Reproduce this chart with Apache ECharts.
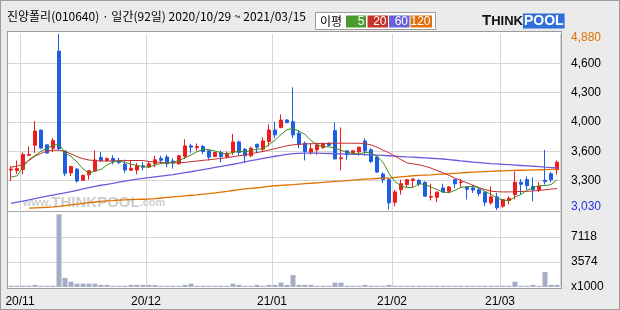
<!DOCTYPE html>
<html>
<head>
<meta charset="utf-8">
<script src="https://cdn.jsdelivr.net/npm/echarts@6/dist/echarts.min.js"></script>
<style>
html,body{margin:0;padding:0;background:#ebebeb;width:620px;height:310px;overflow:hidden}
#outer{position:absolute;left:0;top:0;width:618px;height:308px;border:1px solid #9c9c9c}
#panel{position:absolute;left:7px;top:31px;width:553px;height:256px;background:#fff;border:1px solid #9c9c9c}
#sep{position:absolute;left:8px;top:211px;width:553px;height:1px;background:#a9a9a9}
#chart{position:absolute;left:0;top:0;width:620px;height:310px}
</style>
</head>
<body>
<div id="outer"></div>
<div id="panel"></div>
<div id="sep"></div>
<div id="chart"></div>
<script>
const TITLE = '진양폴리(010640) · 일간(92일) 2020/10/29 ~ 2021/03/15';

const dates = [
'20/10/29','20/10/30',
'20/11/02','20/11/03','20/11/04','20/11/05','20/11/06','20/11/09','20/11/10','20/11/11','20/11/12','20/11/13',
'20/11/16','20/11/17','20/11/18','20/11/19','20/11/20','20/11/23','20/11/24','20/11/25','20/11/26','20/11/27','20/11/30',
'20/12/01','20/12/02','20/12/03','20/12/04','20/12/07','20/12/08','20/12/09','20/12/10','20/12/11','20/12/14','20/12/15',
'20/12/16','20/12/17','20/12/18','20/12/21','20/12/22','20/12/23','20/12/24','20/12/28','20/12/29','20/12/30',
'21/01/04','21/01/05','21/01/06','21/01/07','21/01/08','21/01/11','21/01/12','21/01/13','21/01/14','21/01/15',
'21/01/18','21/01/19','21/01/20','21/01/21','21/01/22','21/01/25','21/01/26','21/01/27','21/01/28','21/01/29',
'21/02/01','21/02/02','21/02/03','21/02/04','21/02/05','21/02/08','21/02/09','21/02/10','21/02/15','21/02/16',
'21/02/17','21/02/18','21/02/19','21/02/22','21/02/23','21/02/24','21/02/25','21/02/26',
'21/03/02','21/03/03','21/03/04','21/03/05','21/03/08','21/03/09','21/03/10','21/03/11','21/03/12','21/03/15'
];

const opens = [3450,3445,3457,3605,3710,3870,3715,3680,4700,3650,
3420,3460,3342,3400,3438,3582,3550,3572,3552,3510,
3448,3450,3495,3481,3516,3572,3586,3545,3516,3593,
3704,3685,3697,3652,3593,3634,3593,3634,3746,3669,
3600,3722,3669,3750,3871,3896,3976,3958,3837,3732,
3638,3662,3687,3732,3864,3570,3652,3634,3641,3756,
3662,3586,3408,3349,3112,3244,3297,3342,3342,3321,
3165,3164,3262,3227,3349,3318,3272,3262,3244,3217,
3105,3168,3070,3129,3192,3321,3349,3279,3244,3342,
3411,3453];
const closes = [3460,3465,3614,3615,3860,3680,3628,3760,3675,3415,
3488,3335,3395,3443,3556,3550,3570,3540,3530,3450,
3468,3495,3480,3516,3558,3552,3516,3523,3600,3704,
3690,3697,3645,3586,3634,3593,3627,3746,3634,3600,
3680,3690,3756,3871,3820,3976,3950,3820,3722,3645,
3673,3715,3725,3710,3568,3578,3610,3652,3690,3652,
3540,3429,3350,3105,3220,3307,3349,3356,3304,3175,
3172,3217,3220,3272,3307,3324,3248,3240,3203,3112,
3168,3053,3140,3154,3321,3300,3286,3244,3279,3328,
3349,3533];
const lows = [3335,3410,3405,3600,3630,3678,3625,3640,3660,3385,
3388,3318,3340,3350,3436,3535,3535,3510,3512,3420,
3445,3405,3445,3470,3480,3523,3481,3464,3505,3565,
3627,3652,3617,3551,3590,3530,3575,3610,3600,3523,
3586,3627,3645,3697,3784,3890,3940,3784,3680,3551,
3610,3610,3673,3700,3560,3446,3558,3610,3600,3600,
3523,3418,3314,3035,3070,3192,3272,3262,3279,3172,
3130,3112,3210,3210,3262,3272,3140,3210,3175,3070,
3087,3030,3053,3087,3140,3192,3244,3122,3217,3297,
3321,3401];
const highs = [3490,3550,3635,3700,3965,3875,3715,3785,4880,3655,
3495,3470,3400,3450,3655,3640,3585,3605,3580,3560,
3550,3525,3535,3547,3600,3600,3610,3575,3610,3774,
3725,3730,3712,3662,3640,3655,3645,3830,3760,3680,
3697,3725,3795,3931,3958,4035,3985,4320,3871,3750,
3732,3739,3739,3740,3951,3899,3655,3656,3697,3784,
3680,3600,3425,3366,3244,3349,3356,3360,3356,3332,
3307,3227,3307,3280,3352,3356,3280,3290,3262,3227,
3279,3210,3147,3175,3436,3356,3384,3373,3324,3662,
3429,3551];

const ma5 = [3375,3390,3480,3560,3603,3647,3679,3709,3721,3632,
3593,3535,3462,3415,3443,3456,3503,3532,3549,3528,
3512,3497,3485,3482,3503,3520,3524,3533,3550,3579,
3607,3643,3667,3664,3650,3631,3617,3637,3647,3640,
3657,3670,3672,3719,3763,3823,3875,3887,3858,3823,
3762,3715,3696,3694,3678,3659,3638,3624,3620,3636,
3629,3593,3532,3415,3329,3282,3266,3267,3307,3298,
3271,3245,3218,3211,3238,3268,3274,3278,3264,3225,
3194,3155,3135,3125,3167,3194,3240,3261,3286,3287,
3297,3347];
const ma20 = [3480,3490,3510,3550,3596,3625,3650,3659,3659,3645,
3620,3590,3570,3555,3550,3545,3545,3545,3548,3550,
3550,3550,3550,3540,3535,3530,3527,3525,3527,3530,
3538,3545,3552,3558,3565,3572,3580,3590,3600,3610,
3622,3634,3645,3660,3675,3690,3705,3715,3720,3724,
3727,3729,3730,3731,3732,3732,3732,3732,3731,3728,
3715,3690,3660,3630,3595,3560,3525,3515,3505,3490,
3470,3445,3420,3395,3365,3340,3315,3290,3265,3245,
3228,3222,3220,3220,3222,3225,3226,3230,3236,3242,
3250,3255];
const ma60 = [3100,3112,3124,3137,3150,3163,3175,3187,3199,3211,
3223,3237,3251,3265,3279,3290,3300,3311,3322,3333,
3344,3354,3363,3371,3379,3387,3395,3402,3412,3422,
3432,3443,3455,3466,3477,3488,3500,3511,3523,3536,
3548,3560,3572,3583,3595,3605,3615,3622,3625,3627,
3627,3627,3626,3624,3622,3620,3618,3616,3614,3612,
3610,3607,3604,3600,3596,3592,3588,3585,3582,3578,
3574,3570,3566,3560,3553,3546,3540,3533,3528,3523,
3518,3514,3510,3506,3502,3498,3494,3490,3485,3480,
3476,3472];
const ma120 = [null,null,null,3050,3053,3056,3059,3063,3069,3076,
3084,3092,3100,3108,3114,3120,3126,3129,3133,3136,
3139,3141,3143,3145,3150,3156,3162,3168,3173,3179,
3185,3190,3197,3203,3210,3218,3226,3235,3244,3251,
3258,3264,3271,3278,3285,3289,3293,3297,3302,3307,
3311,3316,3320,3325,3330,3334,3339,3344,3349,3354,
3358,3361,3364,3366,3372,3378,3384,3390,3394,3397,
3400,3404,3408,3412,3416,3420,3424,3428,3431,3434,
3437,3440,3442,3444,3446,3448,3450,3452,3453,3455,
3457,3460];

// volume in thousands of shares
const volumes = [180,170,180,190,300,170,160,170,10350,1300,
750,470,470,470,470,300,300,170,170,170,
300,300,300,300,280,170,170,170,170,300,
470,170,170,170,170,170,170,470,300,170,
170,300,170,300,300,620,300,1700,300,300,
300,170,170,170,620,620,170,170,170,300,
170,170,170,300,170,170,170,170,170,170,
170,170,170,170,170,170,170,170,170,170,
170,170,170,170,750,170,170,300,170,2130,
300,300];

const priceTickLabels = ['3,030','3,300','3,600','4,000','4,300','4,600','4,880'];
const priceMin = 3030, priceMax = 4880;
const volTickLabels = ['x1000','3574','7118',''];
const volTop = 10677;

const maLegend = [
  {name:'5', color:'#4b9a2c'},
  {name:'20', color:'#c4342c'},
  {name:'60', color:'#6a60d8'},
  {name:'120', color:'#e0700e'}
];

const FONT_NUM = 'Liberation Sans';
const FONT_KR = 'Noto Sans CJK KR';

const monthStart = (i) => i > 0 && dates[i].slice(0,5) !== dates[i-1].slice(0,5);

const candleData = opens.map((o,i) => [o, closes[i], lows[i], highs[i]]);

const legendGraphics = [
  {type:'rect', shape:{x:315.5,y:12.5,width:120,height:17}, style:{fill:'#fff', stroke:'#9c9c9c', lineWidth:1}},
  {type:'text', x:320, y:21.5, style:{text:'이평', font:'12px "'+FONT_KR+'"', fill:'#000', textVerticalAlign:'middle'}}
];
const boxX = [346, 367.5, 389, 410.5], boxW = [20, 20.5, 20.5, 21.5];
maLegend.forEach((m, i) => {
  legendGraphics.push({type:'rect', shape:{x:boxX[i], y:15.5, width:boxW[i], height:12}, style:{fill:m.color}});
  legendGraphics.push({type:'text', x:boxX[i]+boxW[i]-1.5, y:21.5, style:{text:m.name, font:'12px "'+FONT_NUM+'"', fill:'#fff', textAlign:'right', textVerticalAlign:'middle'}});
});

const chart = echarts.init(document.getElementById('chart'), null, {renderer:'canvas'});
const option = {
  animation: false,
  backgroundColor: 'transparent',
  title: {
    text: TITLE, left: 7, top: 10, padding: 0,
    textStyle: {fontFamily: FONT_KR, fontSize: 12, fontWeight: 'normal', color: '#000'}
  },
  graphic: legendGraphics.concat([
    {type:'text', x:482, y:21, style:{
      text:'{a|T}{c|HINK}{b|POOL}',
      textVerticalAlign:'middle',
      rich:{
        a:{fontFamily:FONT_NUM, fontSize:15, fontWeight:'bold', fill:'#111', color:'#111'},
        c:{fontFamily:FONT_NUM, fontSize:13, fontWeight:'bold', fill:'#111', color:'#111'},
        b:{fontFamily:FONT_NUM, fontSize:14, fontWeight:'bold', fill:'#fff', color:'#fff', backgroundColor:'#2f6fd9', padding:[1,1,0,1]}
      }
    }},
    {type:'text', x:23, y:203, z:1, style:{
      text:'{s|www.}{b|THINKPOOL}{s|.com}',
      textVerticalAlign:'middle',
      rich:{
        s:{fontFamily:FONT_NUM, fontSize:11, fontWeight:'bold', fill:'#cdcdcd', color:'#cdcdcd'},
        b:{fontFamily:FONT_NUM, fontSize:15, fontWeight:'bold', fill:'#cdcdcd', color:'#cdcdcd'}
      }
    }}
  ]),
  grid: [
    {left: 8, top: 34, width: 552, height: 176},
    {left: 8, top: 212, width: 552, height: 75}
  ],
  xAxis: [
    {type:'category', gridIndex:0, data:dates, boundaryGap:true,
     axisLine:{show:false}, axisTick:{show:false}, axisLabel:{show:false},
     splitLine:{show:true, interval:(i)=>monthStart(i), lineStyle:{color:'#d6d6d6', width:1}}},
    {type:'category', gridIndex:1, data:dates, boundaryGap:true,
     axisLine:{show:false}, axisTick:{show:false},
     axisLabel:{show:true, interval:(i)=>monthStart(i), formatter:(v)=>v.slice(0,5),
       fontFamily:FONT_NUM, fontSize:12, color:'#000', margin:9, padding:[0,6,0,0]},
     splitLine:{show:true, interval:(i)=>monthStart(i), lineStyle:{color:'#d6d6d6', width:1}}}
  ],
  yAxis: [
    {type:'value', gridIndex:0, min:priceMin, max:priceMax, show:false},
    {type:'value', gridIndex:0, min:0, max:6, interval:1, position:'right',
     axisLine:{show:false}, axisTick:{show:false},
     splitLine:{show:true, showMinLine:false, showMaxLine:false, lineStyle:{color:'#d6d6d6', width:1}},
     axisLabel:{margin:11, fontFamily:FONT_NUM, fontSize:12, color:'#000',
       formatter:(v)=>{ const i=Math.round(v); if(i===6) return '{max|'+priceTickLabels[i]+'}'; if(i===0) return '{min|'+priceTickLabels[i]+'}'; return priceTickLabels[i]; },
       rich:{
         max:{color:'#e07000', fontFamily:FONT_NUM, fontSize:12, padding:[8,0,0,0]},
         min:{color:'#1f32e6', fontFamily:FONT_NUM, fontSize:12, padding:[0,0,6,0]}
       }}},
    {type:'value', gridIndex:1, min:0, max:volTop, show:false},
    {type:'value', gridIndex:1, min:0, max:3, interval:1, position:'right',
     axisLine:{show:false}, axisTick:{show:false},
     splitLine:{show:true, showMinLine:false, showMaxLine:false, lineStyle:{color:'#d6d6d6', width:1}},
     axisLabel:{margin:11, fontFamily:FONT_NUM, fontSize:12, color:'#000',
       formatter:(v)=>volTickLabels[Math.round(v)]}}
  ],
  series: [
    {type:'candlestick', xAxisIndex:0, yAxisIndex:0, data:candleData, barWidth:4,
     itemStyle:{color:'#f01c1c', color0:'#1e5ee4', borderColor:'#f01c1c', borderColor0:'#1e5ee4', borderWidth:1}},
    {type:'line', name:'MA120', xAxisIndex:0, yAxisIndex:0, data:ma120, symbol:'none', showSymbol:false,
     lineStyle:{color:'#e07000', width:1.3}},
    {type:'line', name:'MA60', xAxisIndex:0, yAxisIndex:0, data:ma60, symbol:'none', showSymbol:false,
     lineStyle:{color:'#6a5cdc', width:1.3}},
    {type:'line', name:'MA20', xAxisIndex:0, yAxisIndex:0, data:ma20, symbol:'none', showSymbol:false,
     lineStyle:{color:'#c23030', width:1}},
    {type:'line', name:'MA5', xAxisIndex:0, yAxisIndex:0, data:ma5, symbol:'none', showSymbol:false,
     lineStyle:{color:'#3f8e1e', width:1}},
    {type:'bar', xAxisIndex:1, yAxisIndex:2, data:volumes, barWidth:5,
     itemStyle:{color:'#a5acc5'}}
  ]
};
chart.setOption(option);
</script>
</body>
</html>
